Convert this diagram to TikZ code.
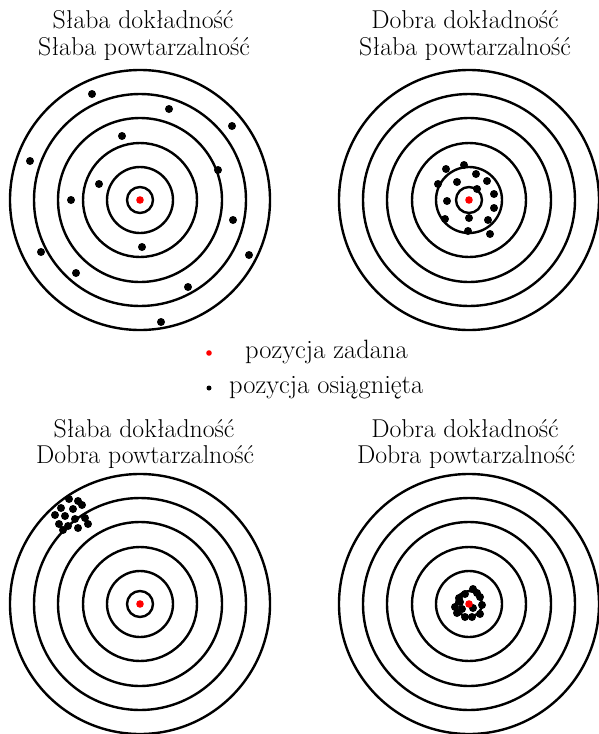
\documentclass[tikz,border=0pt]{standalone}
\usepackage{tikz}

\begin{document}
\begin{tikzpicture}[x=1pt,y=-1pt,
  ring/.style={line width=2.4pt},
  lbl/.style={anchor=base,inner sep=0pt,font=\fontsize{25.8}{28}\selectfont},
  leg/.style={anchor=base west,inner sep=0pt,font=\fontsize{26.5}{28}\selectfont}]
\useasboundingbox (0,0) rectangle (598,734);
% titles
\node[lbl] (t1a) at (143,28) {Słaba dokładność}; \node[lbl] (t1b) at (144,55) {Słaba powtarzalność};
\node[lbl] (t2a) at (465,28) {Dobra dokładność}; \node[lbl] (t2b) at (465,55) {Słaba powtarzalność};
\node[lbl] (t3a) at (144,437) {Słaba dokładność}; \node[lbl] (t3b) at (145,463) {Dobra powtarzalność};
\node[lbl] (t4a) at (465,437) {Dobra dokładność}; \node[lbl] (t4b) at (466,463) {Dobra powtarzalność};
% rings
\foreach \c in {(140,200),(469,200),(140,604),(469,604)} \foreach \r in {13,33,57,82,106,130} \draw[ring] \c circle(\r pt);
% shots
\begin{scope}[shift={(140,200)}]
\foreach \p in {(-48,-106),(29,-91),(92,-74),(-18,-64),(-110,-39),(78,-30),(-41,-16),(-69,0),(93,20),(2,47),(-99,52),(109,55),(-64,73),(48,87),(21,122)} \fill \p circle(4pt);
\end{scope}
\begin{scope}[shift={(469,200)}]
\foreach \p in {(-23,-31),(-5,-35),(7,-26),(18,-19),(-31,-16),(-12,-18),(8,-11),(25,-6),(-22,1),(25,8),(-24,19),(0,18),(19,20),(-1,31),(21,34)} \fill \p circle(4pt);
\end{scope}
\begin{scope}[shift={(140,604)}]
\foreach \p in {(-71,-105),(-62,-103),(-58,-99),(-67,-95),(-79,-96),(-85,-89),(-75,-88),(-65,-85),(-55,-86),(-81,-80),(-72,-78),(-62,-76),(-77,-74),(-52,-80)} \fill \p circle(4pt);
\end{scope}
\begin{scope}[shift={(469,604)}]
\foreach \p in {(-4,-10),(4,-15),(-10,-6),(11,-7),(-14,3),(13,1),(-7,5),(4,4),(-12,9),(-4,13),(3,13),(11,10),(-9,-2),(8,-11)} \fill \p circle(4pt);
\end{scope}
\foreach \c in {(140,200),(469,200),(140,604),(469,604)} \fill[red] \c circle(3.8pt);
% legend
\fill[red] (209,353) circle(2.8pt); \node[leg] (lz) at (245,358) {pozycja zadana};
\fill (209,388) circle(2.5pt); \node[leg] (lo) at (229,393) {pozycja osiągnięta};
\end{tikzpicture}
\end{document}
